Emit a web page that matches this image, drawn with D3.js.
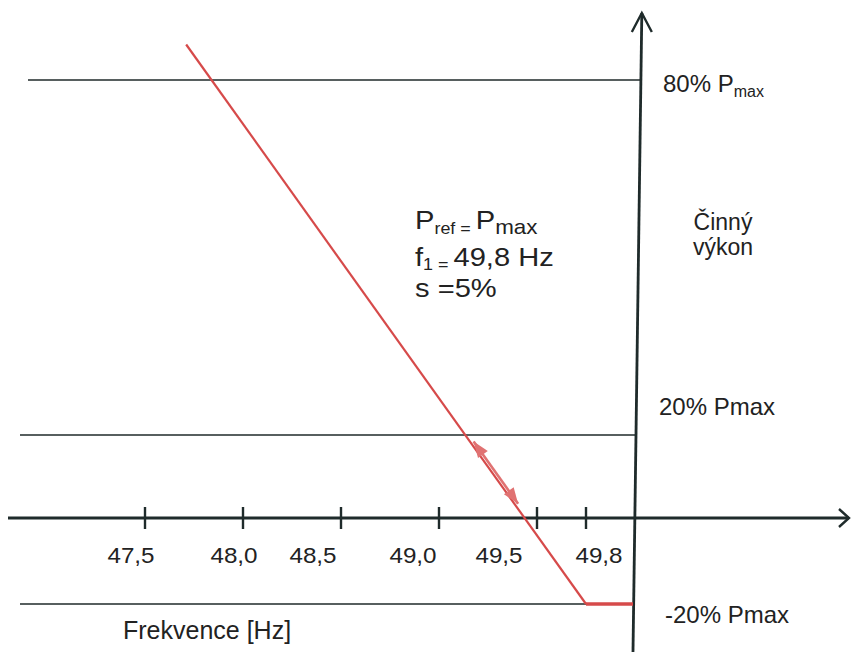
<!DOCTYPE html>
<html>
<head>
<meta charset="utf-8">
<script src="https://cdn.jsdelivr.net/npm/d3@7"></script>
<style>
  body { margin: 0; background: #fff; }
  text { font-family: "Liberation Sans", Arial, sans-serif; fill: #222; }
</style>
</head>
<body>
<div id="chart"></div>
<script>
// data
var freqTicks = [47.5, 48.0, 48.5, 49.0, 49.5, 49.8];
var freqLabels = ["47,5", "48,0", "48,5", "49,0", "49,5", "49,8"];
var powerLevels = [80, 20, -20];
var powerLabels = ["80% P", "20% Pmax", "-20% Pmax"];
var powerSubs = ["max", "", ""];
var droopF = [47.71, 49.8, 50.0];
var droopP = [86, -20, -20];
var arrowP = [18, 3];   // double arrow along the droop line (% Pmax)

var svgWidth = 852, svgHeight = 652;

var svg = d3.select("#chart")
  .append("svg")
  .attr("width", svgWidth)
  .attr("height", svgHeight);

// schematic (not to scale) axes
var xScale = d3.scaleLinear()
  .domain([47.5, 49.5, 49.8, 50])
  .range([145, 537, 586, 633]);

var yScale = d3.scaleLinear()
  .domain([-20, 0, 20, 80])
  .range([604, 518, 435, 80]);

var x0 = xScale(50), y0 = yScale(0);

// slightly tilted y axis, like the scan
function axisX(y) {
  return x0 + (svgHeight - y) / svgHeight * 9;
}

var axisColor = "#1f2b2b";
var red = "#d64a4a";

// text with a slight horizontal stretch (scan looks wider)
function stretchText(parent, x, y, sx, size) {
  return parent.append("g")
    .attr("transform", "translate(" + x + "," + y + ") scale(" + sx + ",1)")
    .append("text")
    .attr("font-size", size);
}

// horizontal level lines
svg.selectAll(".level")
  .data(powerLevels)
  .enter()
  .append("line")
  .attr("class", "level")
  .attr("x1", function(d, i) { return i === 0 ? 28 : 20; })
  .attr("x2", d => axisX(yScale(d)))
  .attr("y1", d => yScale(d))
  .attr("y2", d => yScale(d))
  .attr("stroke", "#1f2a2a")
  .attr("stroke-width", 1.4);

// x axis
svg.append("line")
  .attr("x1", 8).attr("x2", 849)
  .attr("y1", y0).attr("y2", y0)
  .attr("stroke", axisColor)
  .attr("stroke-width", 2.8);

svg.append("path")
  .attr("d", "M839," + (y0 - 9) + " L849," + y0 + " L839," + (y0 + 9))
  .attr("fill", "none")
  .attr("stroke", axisColor)
  .attr("stroke-width", 2.4);

// y axis
var topY = 13;
svg.append("line")
  .attr("x1", axisX(topY)).attr("y1", topY)
  .attr("x2", axisX(svgHeight)).attr("y2", svgHeight)
  .attr("stroke", axisColor)
  .attr("stroke-width", 2.8);

var tx = axisX(topY);
svg.append("path")
  .attr("d", "M" + (tx - 10) + "," + (topY + 19) + " L" + tx + "," + topY + " L" + (tx + 10) + "," + (topY + 19))
  .attr("fill", "none")
  .attr("stroke", axisColor)
  .attr("stroke-width", 2.4);

// ticks
svg.selectAll(".tick")
  .data(freqTicks)
  .enter()
  .append("line")
  .attr("class", "tick")
  .attr("x1", d => xScale(d))
  .attr("x2", d => xScale(d))
  .attr("y1", y0 - 11)
  .attr("y2", y0 + 11)
  .attr("stroke", axisColor)
  .attr("stroke-width", 2.4);

// labels in the scan sit a bit off their ticks
var labelNudge = [-14, -9, -28, -26, -38, 13];
freqTicks.forEach(function(f, i) {
  stretchText(svg, xScale(f) + labelNudge[i], 563, 1.1, 22)
    .attr("text-anchor", "middle")
    .text(freqLabels[i]);
});

svg.append("text")
  .attr("x", 123)
  .attr("y", 639)
  .attr("font-size", 25)
  .text("Frekvence [Hz]");

// power labels
var labelDy = [12, -20, 19];
var labelX = [663, 659, 665];
powerLevels.forEach(function(p, i) {
  var t = svg.append("text")
    .attr("x", labelX[i])
    .attr("y", yScale(p) + labelDy[i])
    .attr("font-size", 24)
    .text(powerLabels[i]);
  if (powerSubs[i]) {
    t.append("tspan")
      .attr("font-size", 16)
      .attr("dy", 5)
      .text(powerSubs[i]);
  }
});

var yTitle = svg.append("text")
  .attr("x", 723)
  .attr("y", 230)
  .attr("text-anchor", "middle")
  .attr("font-size", 23);
yTitle.append("tspan").attr("x", 723).text("Činný");
yTitle.append("tspan").attr("x", 723).attr("dy", 25).text("výkon");

// droop annotation
var l1 = stretchText(svg, 415, 229, 1.12, 26);
l1.append("tspan").text("P");
l1.append("tspan").attr("font-size", 16).attr("dy", 5).text("ref = ");
l1.append("tspan").attr("dy", -5).text("P");
l1.append("tspan").attr("font-size", 20).attr("dy", 5).text("max");

var l2 = stretchText(svg, 415, 266, 1.12, 26);
l2.append("tspan").text("f");
l2.append("tspan").attr("font-size", 16).attr("dy", 4).text("1 = ");
l2.append("tspan").attr("dy", -4).text("49,8 Hz");

stretchText(svg, 415, 297, 1.12, 26).text("s =5%");

// droop line
var droop = droopF.map(function(f, i) { return [xScale(f), yScale(droopP[i])]; });

svg.append("path")
  .attr("d", d3.line()(droop.slice(0, 2)))
  .attr("fill", "none")
  .attr("stroke", red)
  .attr("stroke-width", 2.2);

svg.append("path")
  .attr("d", d3.line()(droop.slice(1)))
  .attr("fill", "none")
  .attr("stroke", red)
  .attr("stroke-width", 3.4);

// double arrow parallel to the droop line
var a = droop[0], b = droop[1];
function onLine(p) {
  var y = yScale(p);
  var t = (y - a[1]) / (b[1] - a[1]);
  return [a[0] + t * (b[0] - a[0]), y];
}
var len = Math.hypot(b[0] - a[0], b[1] - a[1]);
var ux = (b[0] - a[0]) / len, uy = (b[1] - a[1]) / len;
var nx = -uy, ny = ux; // normal
var off = -3;
var p1 = onLine(arrowP[0]), p2 = onLine(arrowP[1]);
p1 = [p1[0] + nx * off, p1[1] + ny * off];
p2 = [p2[0] + nx * off, p2[1] + ny * off];

var arrowColor = "#e07272";
svg.append("line")
  .attr("x1", p1[0]).attr("y1", p1[1])
  .attr("x2", p2[0]).attr("y2", p2[1])
  .attr("stroke", arrowColor)
  .attr("stroke-width", 2.6);

function head(p, dir) {
  var hl = 16, hw = 6;
  var bx = p[0] - dir * ux * hl, by = p[1] - dir * uy * hl;
  var pts = [p, [bx + nx * hw, by + ny * hw], [bx - nx * hw, by - ny * hw]];
  svg.append("path")
    .attr("d", "M" + pts.map(q => q.join(",")).join("L") + "Z")
    .attr("fill", arrowColor);
}
head(p1, -1);
head(p2, 1);
</script>
</body>
</html>
